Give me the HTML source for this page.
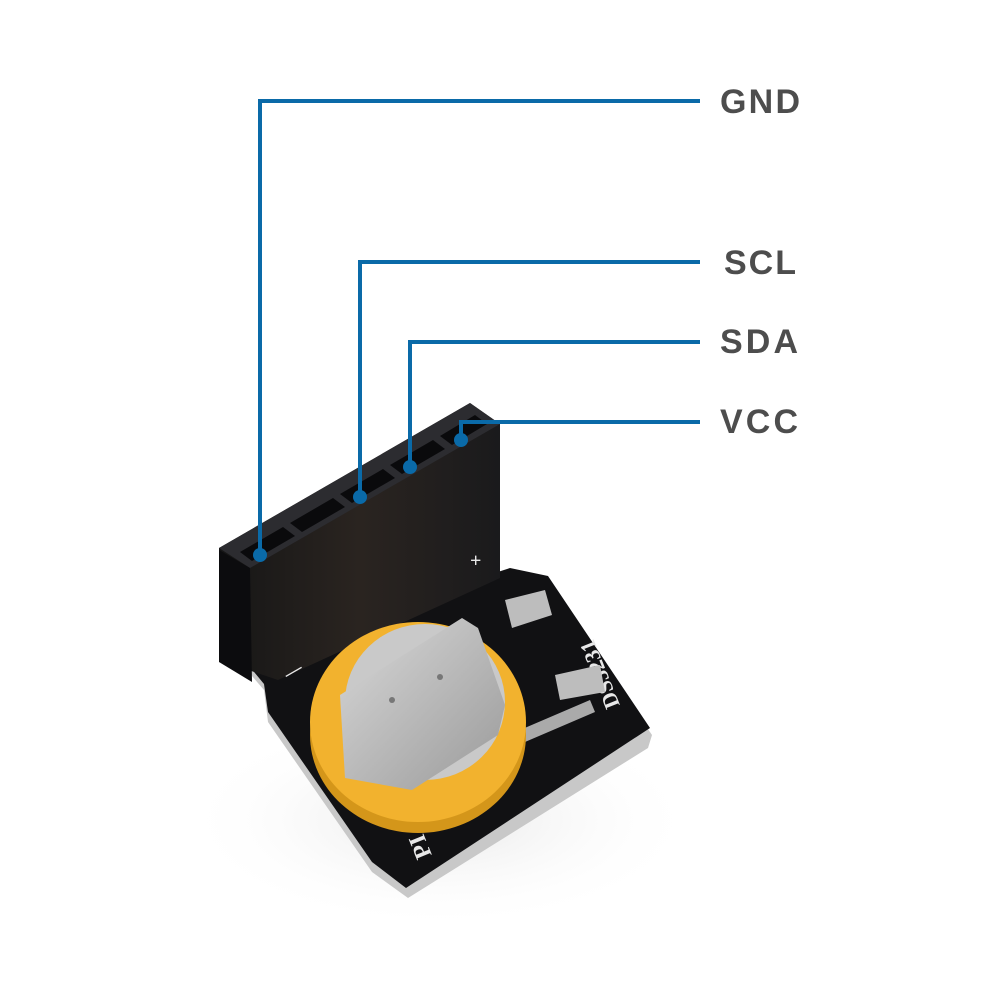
<!DOCTYPE html>
<html><head><meta charset="utf-8"><style>
html,body{margin:0;padding:0;background:#fff;}
svg{display:block;}
</style></head><body>
<svg width="1000" height="1000" viewBox="0 0 1000 1000" xmlns="http://www.w3.org/2000/svg">
<defs>
<radialGradient id="sh" cx="50%" cy="50%" r="50%"><stop offset="0" stop-color="#e8e8e8"/><stop offset="1" stop-color="#fff" stop-opacity="0"/></radialGradient>
<linearGradient id="hf" x1="0" y1="0" x2="1" y2="0"><stop offset="0" stop-color="#161616"/><stop offset="0.5" stop-color="#2a2420"/><stop offset="1" stop-color="#1a1a1c"/></linearGradient>
<linearGradient id="sv" x1="0" y1="0" x2="1" y2="1"><stop offset="0" stop-color="#d8d8d8"/><stop offset="1" stop-color="#9a9a9a"/></linearGradient>
</defs>
<ellipse cx="440" cy="820" rx="260" ry="110" fill="url(#sh)"/>
<polygon points="240,662 510,575 548,582 652,735 648,748 408,898 372,872 268,722 264,690" fill="#c8c8c8"/>
<polygon points="240,655 510,568 548,576 650,728 406,888 372,862 268,712 264,684" fill="#111113"/>
<polygon points="219,548 470,403 500,424 500,578 278,680 219,660" fill="url(#hf)"/>
<polygon points="219,548 470,403 500,424 250,568" fill="#2c2c30"/>
<polygon points="219,550 250,568 252,682 219,662" fill="#0c0c0e"/>
<g fill="#0a0a0c">
<polygon points="240,552 283,527 295,536 252,561"/>
<polygon points="290,523 333,498 345,507 302,532"/>
<polygon points="340,494 383,469 395,478 352,503"/>
<polygon points="390,465 433,440 445,449 402,474"/>
<polygon points="440,436 475,415 487,424 452,445"/>
</g>
<g fill="#e8e8e8" font-family="Liberation Serif, serif" font-weight="bold">
<text x="470" y="567" font-size="20">+</text>
<text x="288" y="680" font-size="18" transform="rotate(-30 288 680)">—</text>
<text x="0" y="0" font-size="22" transform="translate(620,705) rotate(-112)">DS3231</text>
<text x="0" y="0" font-size="24" transform="translate(432,855) rotate(-112)">PI</text>
</g>
<path d="M505,600 L545,590 L552,615 L512,628 Z" fill="#bdbdbd"/>
<path d="M555,675 L600,665 L605,692 L560,700 Z" fill="#bdbdbd"/>
<path d="M520,730 L590,700 L595,712 L525,742 Z" fill="#aaa"/>
<ellipse cx="418" cy="735" rx="108" ry="98" fill="#d4961a"/>
<ellipse cx="418" cy="722" rx="108" ry="100" fill="#f2b22e"/>
<ellipse cx="425" cy="702" rx="80" ry="78" fill="#c9c9c9"/>
<polygon points="340,695 462,618 478,628 505,705 498,735 412,790 345,778" fill="url(#sv)"/>
<circle cx="392" cy="700" r="3" fill="#777"/>
<circle cx="440" cy="677" r="3" fill="#777"/>
<g stroke="#0a6aa8" stroke-width="4" fill="none">
<polyline points="700,101 260,101 260,555"/>
<polyline points="700,262 360,262 360,497"/>
<polyline points="700,342 410,342 410,467"/>
<polyline points="700,422 461,422 461,440"/>
</g>
<g fill="#0a6aa8">
<circle cx="260" cy="555" r="7"/>
<circle cx="360" cy="497" r="7"/>
<circle cx="410" cy="467" r="7"/>
<circle cx="461" cy="440" r="7"/>
</g>
<g fill="#4d4d4d" font-family="Liberation Sans, sans-serif" font-weight="bold" font-size="34">
<text x="720" y="113" textLength="80">GND</text>
<text x="724" y="274" textLength="72">SCL</text>
<text x="720" y="353" textLength="78">SDA</text>
<text x="720" y="433" textLength="78">VCC</text>
</g>
</svg>
</body></html>
